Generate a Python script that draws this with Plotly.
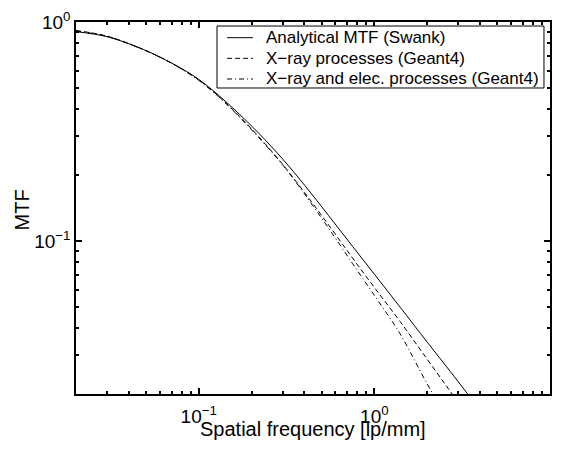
import plotly.graph_objects as go

# Spatial frequency [lp/mm]
freq = [0.02, 0.03, 0.045, 0.06, 0.08, 0.1, 0.13, 0.17, 0.22, 0.3, 0.4, 0.55,
        0.75, 1.0, 1.4, 2.0, 2.7, 3.5]

# MTF values
mtf_swank = [0.904, 0.857, 0.767, 0.692, 0.612, 0.547, 0.462, 0.380, 0.310,
             0.237, 0.180, 0.1303, 0.0946, 0.0705, 0.0499, 0.0345, 0.0254, 0.0194]
mtf_xray = [0.915, 0.862, 0.767, 0.692, 0.611, 0.544, 0.457, 0.372, 0.299,
            0.224, 0.1665, 0.118, 0.0837, 0.0613, 0.0429, 0.0288, 0.0206, 0.0153]
mtf_xray_elec = [0.91, 0.86, 0.766, 0.691, 0.609, 0.541, 0.455, 0.369, 0.296,
                 0.223, 0.164, 0.114, 0.079, 0.0564, 0.0377, 0.0222, 0.0148, 0.0108]

names = ["Analytical MTF (Swank)", "X\u2212ray processes (Geant4)",
         "X\u2212ray and elec. processes (Geant4)"]

x_major = [0.1, 1, 10]
x_major_text = ["10<sup>\u22121</sup>", "10<sup>0</sup>", "10<sup>1</sup>"]
x_minor = [0.02, 0.03, 0.04, 0.05, 0.06, 0.07, 0.08, 0.09,
           0.2, 0.3, 0.4, 0.5, 0.6, 0.7, 0.8, 0.9,
           2, 3, 4, 5, 6, 7, 8, 9]
y_major = [0.1, 1]
y_major_text = ["10<sup>\u22121</sup>", "10<sup>0</sup>"]
y_minor = [0.02, 0.03, 0.04, 0.05, 0.06, 0.07, 0.08, 0.09,
           0.2, 0.3, 0.4, 0.5, 0.6, 0.7, 0.8, 0.9]
x_title = "Spatial frequency [lp/mm]"
y_title = "MTF"

FONT = "Liberation Sans, Arial, Helvetica, sans-serif"
styles = ["solid", "5px,3px", "5px,3px,1px,3px"]
XR = [-1.69897, 1]
YR = [-1.69897, 0]

fig = go.Figure()
for yv, nm, ds in zip([mtf_swank, mtf_xray, mtf_xray_elec], names, styles):
    fig.add_trace(go.Scatter(x=freq, y=yv, mode="lines", name=nm, showlegend=False,
                             line=dict(color="black", width=1, dash=ds, shape="spline")))
# one-point trace that activates the overlay axes carrying the minor ticks
fig.add_trace(go.Scatter(x=freq[:1], y=mtf_swank[:1], mode="lines", xaxis="x2", yaxis="y2",
                         showlegend=False, hoverinfo="skip",
                         line=dict(color="black", width=1)))

base = dict(type="log", showgrid=False, zeroline=False, automargin=False)
label_font = dict(family=FONT, size=19, color="black")

# Legend drawn as a boxed key in the upper right (paper coordinates)
box = dict(x0=0.2975, x1=0.9873, y0=0.8226, y1=0.9892)
row_y = [0.9578, 0.9024, 0.8468]
sample_x = (0.3186, 0.3734)
text_x = 0.3966

shapes = [dict(type="rect", xref="paper", yref="paper", layer="above",
               line=dict(color="black", width=1), fillcolor="white", **box)]
annotations = []
for ry, nm, ds in zip(row_y, names, styles):
    shapes.append(dict(type="line", xref="paper", yref="paper", layer="above",
                       x0=sample_x[0], x1=sample_x[1], y0=ry, y1=ry,
                       line=dict(color="black", width=1, dash=ds)))
    annotations.append(dict(text=nm, xref="paper", yref="paper", x=text_x, y=ry,
                            xanchor="left", yanchor="middle", showarrow=False,
                            font=dict(family=FONT, size=17, color="black")))

annotations.append(dict(text=x_title, xref="paper", yref="paper", x=0.5, y=-0.0941,
                        xanchor="center", yanchor="middle", showarrow=False,
                        font=dict(family=FONT, size=20, color="black")))
annotations.append(dict(text=y_title, xref="paper", yref="paper", x=-0.1129, y=0.4946,
                        xanchor="center", yanchor="middle", showarrow=False,
                        textangle=-90,
                        font=dict(family=FONT, size=20, color="black")))

fig.update_layout(
    width=563, height=452,
    margin=dict(l=76, r=13, t=22, b=58),
    paper_bgcolor="white", plot_bgcolor="white",
    font=dict(family=FONT, color="black"),
    showlegend=False,
    shapes=shapes, annotations=annotations,
    xaxis=dict(base, range=XR, showline=True, linecolor="black", linewidth=1.5,
               mirror="allticks", tickmode="array", tickvals=x_major, ticktext=x_major_text,
               ticks="inside", ticklen=6, tickwidth=1.5, tickcolor="black",
               tickfont=label_font, ticklabelstandoff=4),
    yaxis=dict(base, range=YR, showline=True, linecolor="black", linewidth=1.5,
               mirror="allticks", tickmode="array", tickvals=y_major, ticktext=y_major_text,
               ticks="inside", ticklen=6, tickwidth=1.5, tickcolor="black",
               tickfont=label_font),
    xaxis2=dict(base, range=XR, overlaying="x", anchor="y2", showline=False,
                tickmode="array", tickvals=x_minor, showticklabels=False,
                ticks="inside", ticklen=3, tickwidth=1.5, tickcolor="black", mirror="allticks"),
    yaxis2=dict(base, range=YR, overlaying="y", anchor="x2", showline=False,
                tickmode="array", tickvals=y_minor, showticklabels=False,
                ticks="inside", ticklen=3, tickwidth=1.5, tickcolor="black", mirror="allticks"),
)

fig.write_html("out.html", config={"displayModeBar": False},
               post_script="document.body.style.margin='0';")
